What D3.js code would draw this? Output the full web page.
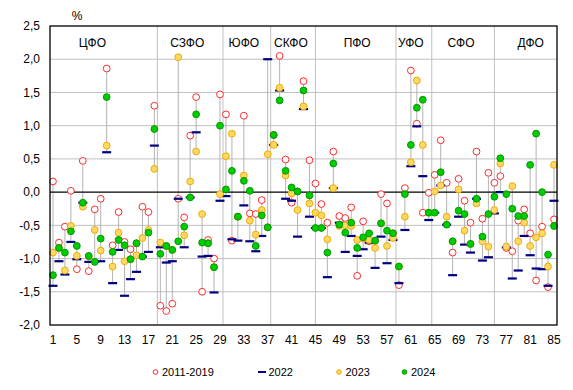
<!DOCTYPE html>
<html><head><meta charset="utf-8">
<script src="https://cdn.jsdelivr.net/npm/d3@7"></script>
<style>
html,body{margin:0;padding:0;background:#fff;}
svg{display:block;font-family:"Liberation Sans",Arial,sans-serif;}
</style></head>
<body><svg id="c" width="573" height="390"></svg>
<script>
// ---- data ----
const categories = d3.range(1, 86);
const xTickLabels = [1,5,9,13,17,21,25,29,33,37,41,45,49,53,57,61,65,69,73,77,81,85];
const yTickValues = [-2,-1.5,-1,-0.5,0,0.5,1,1.5,2,2.5];
const seriesNames = ["2011-2019","2022","2023","2024"];
const districts = ["ЦФО","СЗФО","ЮФО","СКФО","ПФО","УФО","СФО","ДФО"];
const districtLabelAt = [7.6,23.5,33,40.9,52,61,69.4,81.1];
const separatorsAt = [18.5,29.5,37.5,45,58.5,64.5,75];

const v2011 = [0.16,-0.76,-0.52,0.02,-1.16,0.47,-1.19,-0.26,-0.10,1.86,
 -0.80,-0.30,-0.75,-0.86,-0.77,-0.22,-0.30,1.30,-1.71,-1.79,
 -1.68,-0.10,-0.38,0.85,1.43,-1.50,-0.72,-1.00,1.47,1.17,
 -0.73,-0.37,1.15,-0.32,-0.33,-0.12,-0.53,0.86,2.05,0.49,
 -0.16,0.01,1.67,0.48,0.13,-0.18,-0.46,0.61,-0.36,-0.39,
 -0.23,-1.26,-0.44,-0.74,-0.73,-0.03,-0.17,-0.62,-1.40,0.06,
 1.83,1.03,-0.31,-0.01,0.26,0.78,0.14,-0.91,0.20,-0.13,
 -0.46,0.61,-0.40,0.29,0.14,0.24,-0.84,-0.89,-0.43,-0.26,
 -0.62,-1.33,-0.52,-1.43,-0.41];
const v2022 = [-1.41,-1.04,-1.24,-0.75,-1.01,-0.16,-1.05,-1.05,-1.04,0.60,
 -1.37,-0.87,-1.56,-1.31,-1.20,-0.97,-0.90,0.70,-0.83,-1.06,
 -1.04,-0.10,-0.83,-0.08,0.90,-0.97,-0.96,-1.51,-0.13,-0.06,
 -0.71,-0.73,-0.20,-0.74,-0.89,-0.66,2.00,0.71,1.53,-0.10,
 -0.13,-0.67,1.25,-0.37,-0.54,-0.54,-1.28,0.06,-0.46,-0.90,
 -0.66,-0.96,-0.86,-0.76,-1.14,-0.67,-1.07,-0.72,-1.37,-0.57,
 0.39,0.99,0.24,-0.42,-0.31,0.10,-0.49,-1.25,-0.37,-0.79,
 -0.91,-0.10,-1.03,-0.98,-0.32,0.00,-0.83,-1.30,-1.18,-0.66,
 -0.95,-1.15,-1.16,-1.41,-0.13];
const v2023 = [-0.91,-0.84,-1.18,-0.51,-0.96,-0.22,-0.97,-0.57,-0.88,0.70,
 -1.12,-0.61,-1.04,-1.01,-0.95,-0.69,-0.57,0.35,-0.76,-0.81,
 -0.87,2.03,-0.65,0.16,0.61,-0.33,-0.77,-1.13,-0.03,0.54,
 0.88,-0.37,0.25,-0.43,-0.64,-0.27,0.57,0.71,1.57,0.25,
 -0.02,-0.27,1.29,-0.17,-0.31,-0.35,-0.71,0.06,-0.51,-0.50,
 -0.51,-0.72,-0.70,-0.72,-0.84,-0.47,-0.81,-0.69,-1.12,-0.37,
 0.45,1.68,0.71,-0.31,0.01,0.10,-0.37,-0.74,0.04,-0.58,
 -0.78,-0.17,-0.74,-0.82,-0.27,0.43,-0.82,0.09,-0.74,-0.46,
 -0.81,-0.68,-0.62,-1.12,0.41];
const v2024 = [-1.25,-0.84,-0.91,-0.59,-0.81,-0.16,-0.96,-1.05,-0.70,1.43,
 -0.90,-0.72,-0.80,-1.01,-0.77,-0.97,-0.61,0.95,-0.93,-0.81,
 -0.87,-0.74,-0.52,-0.08,1.17,-0.76,-0.77,-1.13,1.00,0.04,
 0.32,-0.37,0.17,0.02,-0.81,-0.35,-0.53,0.86,1.38,0.32,
 0.07,0.01,1.53,-0.05,-0.54,-0.54,-0.91,0.43,-0.49,-0.61,
 -0.46,-0.84,-0.68,-0.62,-0.73,-0.47,-0.58,-0.62,-1.12,-0.03,
 0.71,1.27,1.39,-0.31,-0.31,0.30,-0.49,-0.74,-0.28,-0.33,
 -0.78,-0.10,-0.67,-0.33,-0.07,0.51,-0.03,-0.25,-0.36,-0.36,
 0.41,0.88,0.00,-0.94,-0.51];

// ---- layout ----
const W = 573, H = 390;
const m = {l:50, r:16, t:26, b:65};
const svg = d3.select("#c");
const x = d3.scaleLinear().domain([0.5, 85.5]).range([m.l, W - m.r]);
const y = d3.scaleLinear().domain([-2, 2.5]).range([H - m.b, m.t]);
const fmt = v => d3.format(".1f")(v).replace(".", ",").replace("−", "-");

const COL = {red:"#ff2a2a", navy:"#000080", yFill:"#ffd966", yStroke:"#f0aa00", gFill:"#00cc00", gStroke:"#009a00", grid:"#c0c0c0", range:"#b4b4b4"};

// gridlines
svg.append("g").selectAll("line").data(yTickValues.filter(v => v !== 0 && v !== 2.5 && v !== -2))
  .join("line").attr("x1", m.l).attr("x2", W - m.r)
  .attr("y1", d => y(d)).attr("y2", d => y(d))
  .attr("stroke", COL.grid).attr("stroke-width", 1);

// separators
svg.append("g").selectAll("line").data(separatorsAt).join("line")
  .attr("x1", d => x(d)).attr("x2", d => x(d))
  .attr("y1", m.t).attr("y2", H - m.b)
  .attr("stroke", COL.grid).attr("stroke-width", 1);

// range lines
const rows = categories.map((c, i) => ({c, vals:[v2011[i], v2022[i], v2023[i], v2024[i]]}));
svg.append("g").selectAll("line").data(rows).join("line")
  .attr("x1", d => x(d.c)).attr("x2", d => x(d.c))
  .attr("y1", d => y(d3.max(d.vals))).attr("y2", d => y(d3.min(d.vals)))
  .attr("stroke", COL.range).attr("stroke-width", 1);

// zero line
svg.append("line").attr("x1", m.l).attr("x2", W - m.r).attr("y1", y(0)).attr("y2", y(0))
  .attr("stroke", "#000").attr("stroke-width", 1.3);

// markers
const R = 3.4;
svg.append("g").selectAll("circle").data(v2011).join("circle")
  .attr("cx", (d, i) => x(categories[i])).attr("cy", d => y(d)).attr("r", R)
  .attr("fill", "#fff").attr("stroke", COL.red).attr("stroke-width", 1);
svg.append("g").selectAll("rect").data(v2022).join("rect")
  .attr("x", (d, i) => x(categories[i]) - 4.5).attr("y", d => y(d) - 1.1)
  .attr("width", 9).attr("height", 2.2).attr("fill", COL.navy);
svg.append("g").selectAll("circle").data(v2023).join("circle")
  .attr("cx", (d, i) => x(categories[i])).attr("cy", d => y(d)).attr("r", R)
  .attr("fill", COL.yFill).attr("stroke", COL.yStroke).attr("stroke-width", 1);
svg.append("g").selectAll("circle").data(v2024).join("circle")
  .attr("cx", (d, i) => x(categories[i])).attr("cy", d => y(d)).attr("r", R)
  .attr("fill", COL.gFill).attr("stroke", COL.gStroke).attr("stroke-width", 1);

// border
svg.append("rect").attr("x", m.l).attr("y", m.t).attr("width", W - m.l - m.r).attr("height", H - m.t - m.b)
  .attr("fill", "none").attr("stroke", "#000").attr("stroke-width", 1.3);

// y axis labels
svg.append("g").selectAll("text").data(yTickValues).join("text")
  .attr("x", 40).attr("y", d => y(d)).attr("dy", "0.35em")
  .attr("text-anchor", "end").attr("font-size", 12).text(d => fmt(d));
svg.append("text").attr("x", 77).attr("y", 20).attr("text-anchor", "middle").attr("font-size", 12).text("%");

// x axis labels
svg.append("g").selectAll("text").data(xTickLabels).join("text")
  .attr("x", d => x(d)).attr("y", H - m.b + 19)
  .attr("text-anchor", "middle").attr("font-size", 12).text(d => d);

// district labels
svg.append("g").selectAll("text").data(districts).join("text")
  .attr("x", (d, i) => x(districtLabelAt[i])).attr("y", 47)
  .attr("text-anchor", "middle").attr("font-size", 12).text(d => d);

// legend
const lg = svg.append("g").attr("font-size", 11);
const legendX = [155.5, 262, 339, 404.5];
const ly = 372;
seriesNames.forEach((name, i) => {
  const cx = legendX[i];
  if (i === 0) lg.append("circle").attr("cx", cx).attr("cy", ly).attr("r", 2.3).attr("fill", "#fff").attr("stroke", COL.red);
  if (i === 1) lg.append("rect").attr("x", cx - 4).attr("y", ly - 1).attr("width", 8).attr("height", 2).attr("fill", COL.navy);
  if (i === 2) lg.append("circle").attr("cx", cx).attr("cy", ly).attr("r", 2.3).attr("fill", COL.yFill).attr("stroke", COL.yStroke);
  if (i === 3) lg.append("circle").attr("cx", cx).attr("cy", ly).attr("r", 2.3).attr("fill", COL.gFill).attr("stroke", COL.gStroke);
  lg.append("text").attr("x", cx + 6.5).attr("y", ly).attr("dy", "0.35em").text(name);
});
</script></body></html>
